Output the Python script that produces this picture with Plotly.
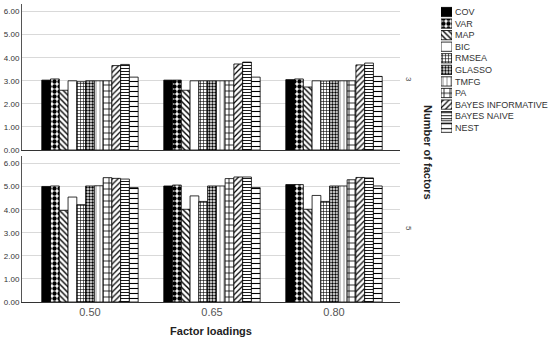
import plotly.graph_objects as go

loadings = ["0.50", "0.65", "0.80"]
methods = ["COV", "VAR", "MAP", "BIC", "RMSEA", "GLASSO", "TMFG", "PA",
           "BAYES INFORMATIVE", "BAYES NAIVE", "NEST"]
facets = ["3", "5"]

# values per method across loadings 0.50, 0.65, 0.80
vals_3 = {
    "COV": [3.03, 3.03, 3.05],
    "VAR": [3.08, 3.03, 3.08],
    "MAP": [2.59, 2.59, 2.73],
    "BIC": [3.00, 3.00, 3.00],
    "RMSEA": [2.96, 3.00, 2.99],
    "GLASSO": [3.00, 3.00, 3.00],
    "TMFG": [3.00, 3.00, 3.00],
    "PA": [3.00, 3.00, 3.00],
    "BAYES INFORMATIVE": [3.66, 3.73, 3.69],
    "BAYES NAIVE": [3.71, 3.81, 3.77],
    "NEST": [3.16, 3.16, 3.19],
}
vals_5 = {
    "COV": [5.01, 5.03, 5.09],
    "VAR": [5.03, 5.07, 5.09],
    "MAP": [3.97, 4.02, 4.02],
    "BIC": [4.55, 4.60, 4.62],
    "RMSEA": [4.22, 4.36, 4.36],
    "GLASSO": [5.03, 5.03, 5.03],
    "TMFG": [5.04, 5.03, 5.03],
    "PA": [5.39, 5.35, 5.30],
    "BAYES INFORMATIVE": [5.36, 5.42, 5.40],
    "BAYES NAIVE": [5.33, 5.42, 5.38],
    "NEST": [4.96, 4.96, 5.03],
}
yticks = [0, 1, 2, 3, 4, 5, 6]

# styling per method: (fill color, pattern shape, pattern size, solidity, fg)
styles = {
    "COV": ("black", "", 8, 0.3, "black"),
    "VAR": ("white", ".", 5, 0.6, "black"),
    "MAP": ("white", "\\", 4, 0.35, "black"),
    "BIC": ("white", "", 8, 0.3, "black"),
    "RMSEA": ("white", "+", 3, 0.35, "black"),
    "GLASSO": ("white", ".", 3, 0.5, "black"),
    "TMFG": ("white", "|", 4, 0.2, "#777777"),
    "PA": ("white", "+", 6, 0.25, "black"),
    "BAYES INFORMATIVE": ("white", "/", 4, 0.3, "black"),
    "BAYES NAIVE": ("white", "-", 3, 0.3, "black"),
    "NEST": ("white", "-", 5, 0.22, "black"),
}

W, H = 550, 345
L, R, T, B = 22, 5, 4, 43
pw, ph = W - L - R, H - T - B

def px_x(p):
    return (p - L) / pw

def px_y(p):
    return (H - B - p) / ph

def marker_for(m):
    col, shp, sz, sol, fg = styles[m]
    return dict(color=col, line=dict(color="black", width=0.8),
                pattern=dict(shape=shp, size=sz, solidity=sol,
                             fgcolor=fg, bgcolor=col, fillmode="replace"))

fig = go.Figure()

for ax, vals in (("", vals_3), ("2", vals_5)):
    for m in methods:
        fig.add_trace(go.Bar(
            x=loadings, y=vals[m], name=m, showlegend=False,
            xaxis="x" + ax, yaxis="y" + ax, marker=marker_for(m),
        ))

# compact legend: one unit swatch per method in a small bar subplot
for m in methods:
    fig.add_trace(go.Bar(
        y=[m], x=[1], orientation="h", showlegend=False, name=m,
        xaxis="x3", yaxis="y3", width=0.8, offset=-0.4,
        marker=marker_for(m), hoverinfo="skip",
    ))

x_dom = [0, px_x(400)]
x_range = [-0.557, 2.541]
top_dom = [px_y(150), 1]
bot_dom = [0, px_y(156)]
grid = "#d9d9d9"
tickfont = dict(family="Liberation Sans, Arial", size=8, color="#333333")

yaxis_common = dict(
    range=[0, 6.33], tickvals=yticks, tickformat=".2f", showgrid=True,
    gridcolor=grid, gridwidth=1, showline=True, linecolor="#555555",
    linewidth=1, ticks="", tickfont=tickfont, zeroline=False, fixedrange=True,
    automargin=False,
)

fig.update_layout(
    template="none",
    width=W, height=H,
    margin=dict(l=L, r=R, t=T, b=B, autoexpand=False),
    plot_bgcolor="white", paper_bgcolor="white",
    barmode="group", bargap=0.21, bargroupgap=0,
    xaxis=dict(domain=x_dom, anchor="y", type="category", range=x_range,
               showticklabels=False, ticks="", showline=True, linecolor="#333333",
               linewidth=1, showgrid=False, automargin=False, fixedrange=True),
    yaxis=dict(domain=top_dom, anchor="x", **yaxis_common),
    xaxis2=dict(domain=x_dom, anchor="y2", type="category", range=x_range,
                ticks="", showline=True, linecolor="#333333", linewidth=1,
                showgrid=False, automargin=False, fixedrange=True,
                tickfont=dict(family="Liberation Sans, Arial", size=11, color="#555555"),
                title=dict(text="<b>Factor loadings</b>", standoff=10,
                           font=dict(family="Liberation Sans, Arial", size=11, color="#222222"))),
    yaxis2=dict(domain=bot_dom, anchor="x2", **yaxis_common),
    xaxis3=dict(domain=[px_x(441), px_x(452)], anchor="y3", range=[0, 1],
                visible=False, fixedrange=True, automargin=False),
    yaxis3=dict(domain=[px_y(133.5), px_y(6.2)], anchor="x3", side="right",
                type="category", autorange="reversed", showline=False,
                showgrid=False, ticks="", zeroline=False, ticklabelstandoff=2,
                automargin=False, fixedrange=True,
                tickfont=dict(family="Liberation Sans, Arial", size=9, color="#333333")),
    font=dict(family="Liberation Sans, Arial"),
)

for lab, ypx in ((facets[0], 79), (facets[1], 228)):
    fig.add_annotation(text=lab, x=px_x(409), y=px_y(ypx), xref="paper", yref="paper",
                       xanchor="center", yanchor="middle",
                       showarrow=False, textangle=90,
                       font=dict(size=8, color="#444444"))
fig.add_annotation(text="<b>Number of factors</b>", x=px_x(428), y=px_y(152),
                   xref="paper", yref="paper", xanchor="center", yanchor="middle",
                   showarrow=False, textangle=90,
                   font=dict(size=11, color="#222222"))

fig.write_html("out.html", config={"displayModeBar": False},
               post_script="document.body.style.margin='0';")
